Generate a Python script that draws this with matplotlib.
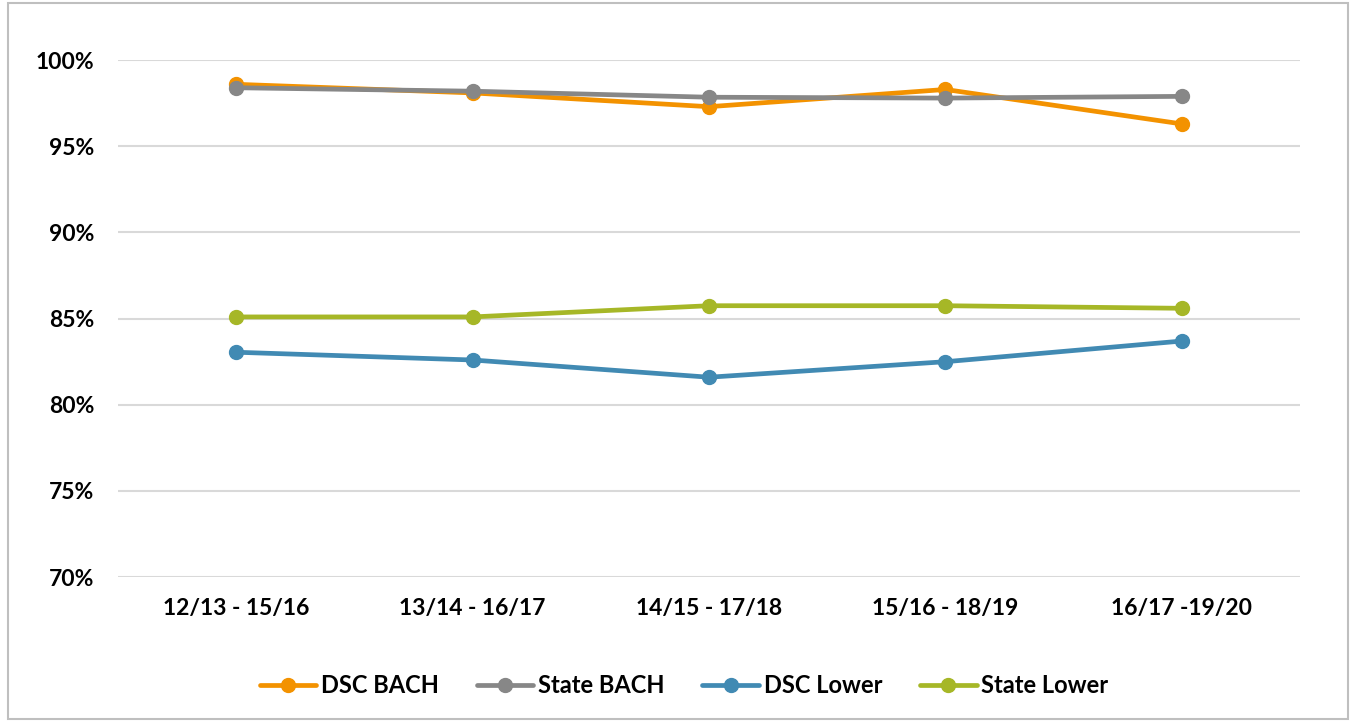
import matplotlib

matplotlib.use("Agg")
import matplotlib.pyplot as plt
from matplotlib.patches import Rectangle
from matplotlib.ticker import FuncFormatter

plt.rcParams["font.family"] = ["Lato", "DejaVu Sans"]
plt.rcParams["font.weight"] = "bold"

periods = ["12/13 - 15/16", "13/14 - 16/17", "14/15 - 17/18", "15/16 - 18/19", "16/17 -19/20"]
dsc_bach = [98.6, 98.1, 97.3, 98.3, 96.3]
state_bach = [98.4, 98.2, 97.85, 97.8, 97.9]
dsc_lower = [83.05, 82.6, 81.6, 82.5, 83.7]
state_lower = [85.1, 85.1, 85.75, 85.75, 85.6]

series = [
    ("DSC BACH", dsc_bach, "#F39200"),
    ("State BACH", state_bach, "#878787"),
    ("DSC Lower", dsc_lower, "#418AB3"),
    ("State Lower", state_lower, "#A6B727"),
]

fig = plt.figure(figsize=(13.56, 7.25), dpi=100)
ax = fig.add_axes([0.087, 0.204, 0.8717, 0.713])

x = range(len(periods))
for name, vals, col in series:
    ax.plot(x, vals, "-o", color=col, lw=3.4, ms=10, label=name,
            solid_capstyle="round", zorder=3)

ax.set_xlim(-0.5, len(periods) - 0.5)
ax.set_ylim(70, 100)
ax.set_yticks(range(70, 101, 5))
ax.yaxis.set_major_formatter(FuncFormatter(lambda v, _: f"{v:.0f}%"))
ax.set_xticks(list(x))
ax.set_xticklabels(periods)
ax.grid(axis="y", color="#D9D9D9", lw=1.5, zorder=0)
ax.tick_params(length=0, labelsize=16.5, pad=15)
ax.tick_params(axis="y", pad=17)
for s in ax.spines.values():
    s.set_visible(False)
for lbl in ax.get_xticklabels() + ax.get_yticklabels():
    lbl.set_fontweight("bold")

ax.legend(loc="center", bbox_to_anchor=(0.479, -0.21), ncol=4, frameon=False,
          fontsize=17, handlelength=2.4, columnspacing=1.6, handletextpad=0.2)

fig.patches.append(Rectangle((0.006, 0.008), 0.988, 0.988, transform=fig.transFigure,
                             fill=False, edgecolor="#BFBFBF", lw=1.5))

fig.savefig("out.png", dpi=100)
